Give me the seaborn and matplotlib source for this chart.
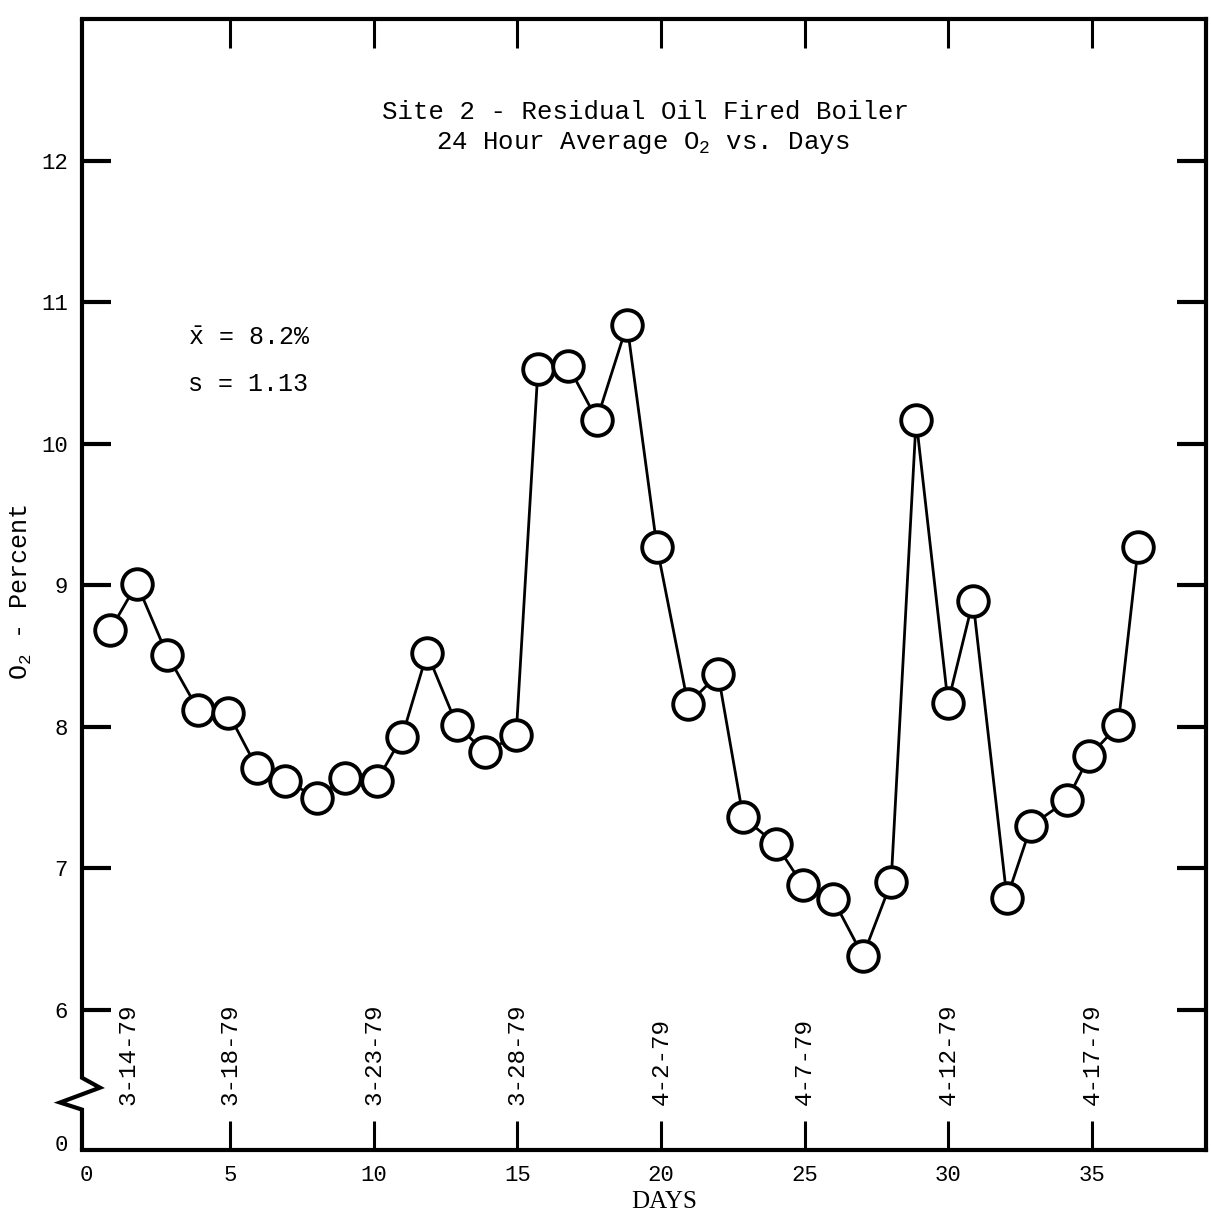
import seaborn as sns
import matplotlib.pyplot as plt
from matplotlib.ticker import FixedLocator

# 24 hour average O2 readings
days = [0.82, 1.76, 2.81, 3.89, 4.93, 5.94, 6.92, 8.03, 9.00, 10.12,
        10.99, 11.86, 12.90, 13.88, 14.96, 15.72, 16.77, 17.77, 18.82, 19.86,
        20.94, 21.99, 22.86, 24.00, 24.94, 25.99, 27.03, 28.01, 28.88, 29.99,
        30.86, 32.04, 32.88, 34.13, 34.90, 35.91, 36.61]
o2_pct = [8.68, 9.01, 8.51, 8.12, 8.10, 7.71, 7.62, 7.50, 7.64, 7.62,
          7.93, 8.52, 8.01, 7.82, 7.94, 10.53, 10.55, 10.17, 10.84, 9.27,
          8.16, 8.37, 7.36, 7.17, 6.88, 6.78, 6.38, 6.90, 10.17, 8.17,
          8.89, 6.79, 7.30, 7.48, 7.79, 8.01, 9.27]

x_ticks = [0, 5, 10, 15, 20, 25, 30, 35]
y_ticks = [6, 7, 8, 9, 10, 11, 12]
y_labels = ['0', '6', '7', '8', '9', '10', '11', '12']
y_break_label = 5.06   # the "0" sits below the axis break

date_pos = [1.45, 5, 10, 15, 20, 25, 30, 35]
date_labels = ['3-14-79', '3-18-79', '3-23-79', '3-28-79',
               '4-2-79', '4-7-79', '4-12-79', '4-17-79']

sns.set_theme(style='white')
plt.rcParams['font.family'] = ['Liberation Mono', 'DejaVu Sans Mono']
plt.rcParams['mathtext.fontset'] = 'custom'
plt.rcParams['mathtext.rm'] = 'Liberation Mono'
plt.rcParams['mathtext.it'] = 'Liberation Mono'
plt.rcParams['mathtext.default'] = 'rm'
for key in ['text.color', 'axes.labelcolor', 'xtick.color', 'ytick.color']:
    plt.rcParams[key] = 'black'

fig = plt.figure(figsize=(12.11, 12.12), dpi=100)
ax = fig.add_axes([0.0677, 0.0512, 0.9282, 0.9331])

sns.lineplot(x=days, y=o2_pct, ax=ax, color='black', linewidth=2,
             marker='o', markersize=22, markerfacecolor='white',
             markeredgecolor='black', markeredgewidth=2.8)

ax.set_xlim(-0.15, 38.97)
ax.set_ylim(5.01, 13.0)

# x: labels on major ticks, marks on minor ticks (no mark at 0)
ax.set_xticks(x_ticks, [str(t) for t in x_ticks])
ax.xaxis.set_minor_locator(FixedLocator(x_ticks[1:]))
ax.xaxis.remove_overlapping_locs = False
ax.tick_params(axis='x', which='major', length=0, pad=11, labelsize=16)
ax.tick_params(axis='x', which='minor', direction='in', length=21, width=2.2,
               top=True, bottom=True, color='black')

# y: same trick, "0" label below the break
ax.set_yticks([y_break_label] + y_ticks, y_labels)
ax.yaxis.set_minor_locator(FixedLocator(y_ticks))
ax.yaxis.remove_overlapping_locs = False
ax.tick_params(axis='y', which='major', length=0, pad=10, labelsize=16)
ax.tick_params(axis='y', which='minor', direction='in', length=21, width=3,
               left=True, right=True, color='black')

for side in ['top', 'right', 'bottom']:
    ax.spines[side].set_linewidth(3)
    ax.spines[side].set_color('black')
ax.spines['left'].set_visible(False)

# left axis line with the zigzag break
trans = ax.get_yaxis_transform()
ax.plot([0, 0, 0.016, -0.0195, 0, 0], [13.0, 5.52, 5.45, 5.345, 5.295, 5.01],
        transform=trans, color='black', lw=3, clip_on=False,
        solid_joinstyle='miter')

for pos, lab in zip(date_pos, date_labels):
    ax.text(pos, 5.33, lab, rotation=90, ha='center', va='bottom', fontsize=17.5)

ax.text(0.501, 0.918, 'Site 2 - Residual Oil Fired Boiler', transform=ax.transAxes,
        ha='center', va='center', fontsize=18.5)
ax.text(0.499, 0.890, r'24 Hour Average O$_{2}$ vs. Days', transform=ax.transAxes,
        ha='center', va='center', fontsize=18.5)

ax.text(0.094, 0.718, r'$\bar{\mathrm{x}}$ = 8.2%', transform=ax.transAxes,
        ha='left', va='center', fontsize=18)
ax.text(0.094, 0.677, 's = 1.13', transform=ax.transAxes,
        ha='left', va='center', fontsize=18)

ax.set_xlabel('DAYS', family=['Liberation Serif'], fontsize=18)
ax.xaxis.set_label_coords(0.518, -0.036)
ax.set_ylabel(r'O$_{2}$ - Percent', fontsize=18)
ax.yaxis.set_label_coords(-0.043, 0.493)

fig.savefig('out.png', dpi=100, facecolor='white')
